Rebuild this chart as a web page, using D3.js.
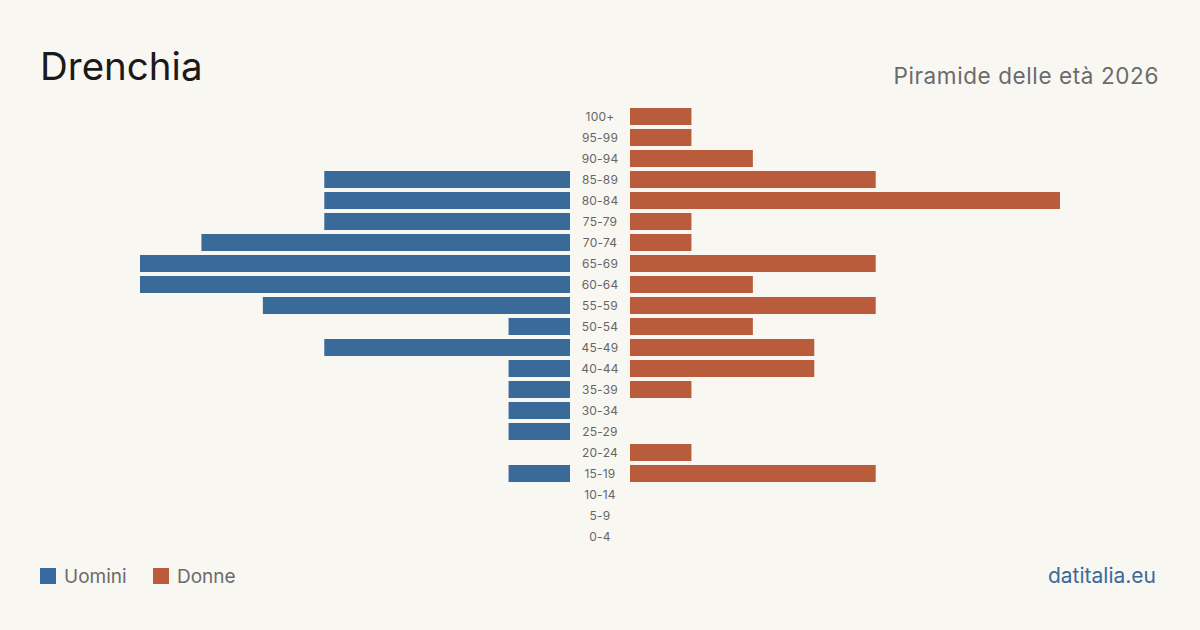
<!DOCTYPE html>
<html>
<head>
<meta charset="utf-8">
<script src="https://cdn.jsdelivr.net/npm/d3@7"></script>
<style>
  html, body { margin: 0; padding: 0; background: #f9f7f2; }
  svg { display: block; font-family: Inter, "Noto Sans", sans-serif; }
</style>
</head>
<body>
<div id="main"></div>
<script>
const W = 1200, H = 630;

// age classes, top to bottom
const ageGroups = ["100+", "95-99", "90-94", "85-89", "80-84", "75-79", "70-74", "65-69",
    "60-64", "55-59", "50-54", "45-49", "40-44", "35-39", "30-34", "25-29",
    "20-24", "15-19", "10-14", "5-9", "0-4"];
const men   = [0, 0, 0, 4, 4, 4, 6, 7, 7, 5, 1, 4, 1, 1, 1, 1, 0, 1, 0, 0, 0];
const women = [1, 1, 2, 4, 7, 1, 1, 4, 2, 4, 2, 3, 3, 1, 0, 0, 1, 4, 0, 0, 0];
const legendLabels = ["Uomini", "Donne"];
const colors = ["#3a6a9a", "#b85c3c"];

const svg = d3.select("#main").append("svg")
    .attr("width", W)
    .attr("height", H);

svg.append("rect")
   .attr("width", W).attr("height", H)
   .attr("fill", "#f9f7f2");

const y = d3.scaleBand()
    .domain(ageGroups)
    .range([106, 547])
    .paddingInner(0.19)
    .paddingOuter(0.095);

const maxV = d3.max(men.concat(women));
const xMen = d3.scaleLinear().domain([0, maxV]).range([570, 140]);
const xWomen = d3.scaleLinear().domain([0, maxV]).range([630, 1060]);

const rows = ageGroups.map((g, i) => ({group: g, m: men[i], f: women[i]}));

svg.append("g").selectAll("rect")
   .data(rows.filter(d => d.m > 0))
   .join("rect")
   .attr("x", d => xMen(d.m))
   .attr("y", d => y(d.group))
   .attr("width", d => xMen(0) - xMen(d.m))
   .attr("height", y.bandwidth())
   .attr("fill", colors[0]);

svg.append("g").selectAll("rect")
   .data(rows.filter(d => d.f > 0))
   .join("rect")
   .attr("x", xWomen(0))
   .attr("y", d => y(d.group))
   .attr("width", d => xWomen(d.f) - xWomen(0))
   .attr("height", y.bandwidth())
   .attr("fill", colors[1]);

// age labels in the middle
svg.append("g").selectAll("text")
   .data(ageGroups)
   .join("text")
   .attr("x", 600)
   .attr("y", d => y(d) + y.bandwidth() / 2)
   .attr("dy", "0.35em")
   .attr("text-anchor", "middle")
   .attr("font-size", 12)
   .attr("letter-spacing", 0.2)
   .attr("fill", "#666")
   .text(d => d);

// titles
svg.append("text")
   .attr("x", 40).attr("y", 80)
   .attr("font-size", 38.5)
   .attr("fill", "#1a1a1a")
   .text("Drenchia");

svg.append("text")
   .attr("x", 1159).attr("y", 84)
   .attr("text-anchor", "end")
   .attr("font-size", 22.5)
   .attr("letter-spacing", 0.6)
   .attr("fill", "#6b6b6b")
   .text("Piramide delle età 2026");

// legend
const leg = svg.append("g");
const legX = [40, 153];
legendLabels.forEach((l, i) => {
    leg.append("rect")
       .attr("x", legX[i]).attr("y", 568)
       .attr("width", 16).attr("height", 16)
       .attr("fill", colors[i]);
    leg.append("text")
       .attr("x", legX[i] + 24).attr("y", 583)
       .attr("font-size", 19)
       .attr("fill", "#6b6b6b")
       .text(l);
});

svg.append("text")
   .attr("x", 1156).attr("y", 583)
   .attr("text-anchor", "end")
   .attr("font-size", 21)
   .attr("fill", "#3a6a9a")
   .text("datitalia.eu");
</script>
</body>
</html>
